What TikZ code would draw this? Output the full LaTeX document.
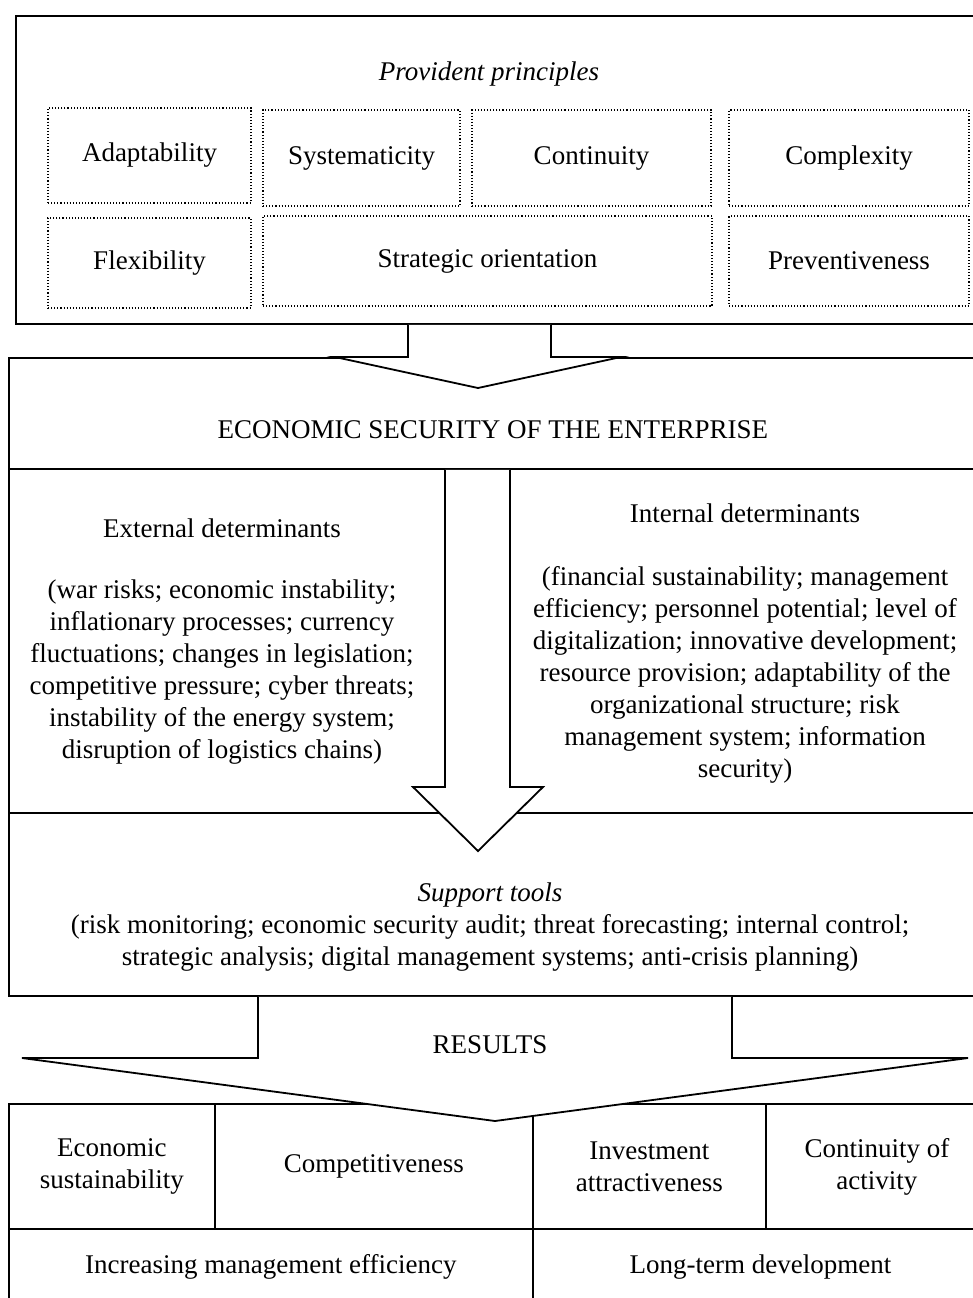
\documentclass[tikz,border=0pt]{standalone}
\usepackage{fontspec}
\setmainfont{Liberation Serif}

\begin{document}
\begin{tikzpicture}[x=1pt, y=-1pt, font=\fontsize{27}{32}\selectfont,
    frame/.style={draw, line width=1.8pt, anchor=north west, align=center, inner sep=0pt},
    principle/.style={draw, dotted, line width=1.1pt, inner sep=0pt},
    blockarrow/.style={draw, fill=white, line width=1.8pt, line join=miter},
    txt/.style={align=center, inner sep=0pt}]
                    \useasboundingbox (0,0) rectangle (973,1298);
                    \clip (0,0) rectangle (973,1298);
                    % principles
                    \node [frame, minimum width=975pt, minimum height=308pt] (top) at (15,15) {};
                    \node [txt] (provident) at (489,74) {\itshape Provident principles};
                    \node [principle, minimum width=203pt, minimum height=95pt] (adapt) at (149.5,155.5) {Adaptability};
                    \node [principle, minimum width=197pt, minimum height=96pt] (system) at (361.5,158) {Systematicity};
                    \node [principle, minimum width=239pt, minimum height=96pt] (contin) at (591.5,158) {Continuity};
                    \node [principle, minimum width=240pt, minimum height=96pt] (complex) at (849,158) {Complexity};
                    \node [principle, minimum width=203pt, minimum height=90pt] (flex) at (149.5,263) {Flexibility};
                    \node [principle, minimum width=449pt, minimum height=90pt] (strat) at (487.5,261) {Strategic orientation};
                    \node [principle, minimum width=240pt, minimum height=90pt] (prevent) at (849,261) {Preventiveness};
                    % economic security and determinants
                    \node [frame, minimum width=979pt, minimum height=111pt] (esec) at (8,357) {};
                    \draw [blockarrow] (408,0 |- top.south) -- (408,0 |- esec.north) -- (335,0 |- esec.north) -- (478,388)
                        -- (621,0 |- esec.north) -- (551,0 |- esec.north) -- (551,0 |- top.south);
                    \node [txt] (esectext) at (493,430) {ECONOMIC SECURITY OF THE ENTERPRISE};
                    \node [frame, minimum width=979pt, minimum height=344pt] (determ) at (8,468) {};
                    \node [txt] (ext) at (222,642) {External determinants\\[29pt]
                        (war risks; economic instability;\\ inflationary processes; currency\\
                        fluctuations; changes in legislation;\\ competitive pressure; cyber threats;\\
                        instability of the energy system;\\ disruption of logistics chains)};
                    \node [txt] (int) at (745,644) {Internal determinants\\[31pt]
                        (financial sustainability; management\\ efficiency; personnel potential; level of\\
                        digitalization; innovative development;\\ resource provision; adaptability of the\\
                        organizational structure; risk\\ management system; information\\ security)};
                    % support tools
                    \node [frame, minimum width=979pt, minimum height=183pt] (tools) at (8,812) {};
                    \draw [blockarrow] (445,0 |- esec.south) -- (445,787) -- (413,787) -- (478,851)
                        -- (543,787) -- (510,787) -- (510,0 |- esec.south);
                    \node [txt] (toolstext) at (490,927) {{\itshape Support tools}\\
                        (risk monitoring; economic security audit; threat forecasting; internal control;\\
                        strategic analysis; digital management systems; anti-crisis planning)};
                    % results
                    \node [frame, minimum width=206pt, minimum height=125pt] (econ) at (8,1103) {Economic\\ sustainability};
                    \node [frame, minimum width=318pt, minimum height=125pt] (compet) at (214,1103) {Competitiveness};
                    \node [frame, minimum width=233pt, minimum height=125pt] (invest) at (532,1103) {Investment\\ attractiveness};
                    \node [frame, minimum width=222pt, minimum height=125pt] (activity) at (765,1103) {Continuity of\\ activity};
                    \node [frame, minimum width=524pt, minimum height=76pt] (mgmt) at (8,1228) {Increasing management efficiency};
                    \node [frame, minimum width=455pt, minimum height=76pt] (longterm) at (532,1228) {Long-term development};
                    \draw [blockarrow] (258,0 |- tools.south) -- (258,1058) -- (22,1058) -- (495,1121)
                        -- (968,1058) -- (732,1058) -- (732,0 |- tools.south);
                    \node [txt] (results) at (490,1045) {RESULTS};
                \end{tikzpicture}
\end{document}
